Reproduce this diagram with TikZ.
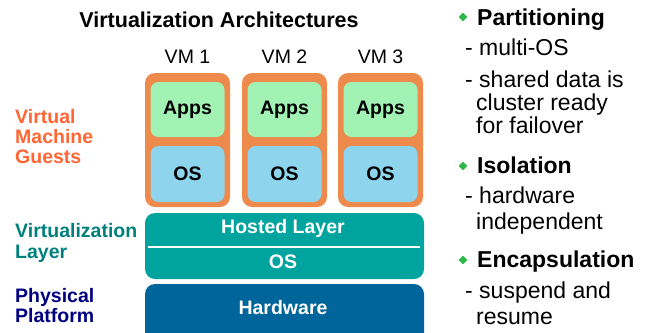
\documentclass[tikz,border=0pt]{standalone}
\usepackage{fontspec}
\setmainfont{Liberation Sans}
\usetikzlibrary{shapes.geometric}
\definecolor{vmorange}{HTML}{EE8A4C}
\definecolor{appsgreen}{HTML}{A2F2B4}
\definecolor{osblue}{HTML}{8DD4EC}
\definecolor{vteal}{HTML}{00A49E}
\definecolor{hwblue}{HTML}{00659A}
\definecolor{guestred}{HTML}{FF6633}
\definecolor{layerteal}{HTML}{00807C}
\definecolor{physnavy}{HTML}{000080}
\definecolor{bulletgreen}{HTML}{2EB84A}
\tikzset{
  vmbox/.style={rectangle, rounded corners=10pt, fill=vmorange, minimum width=85pt, minimum height=134pt, inner sep=0pt},
  appsbox/.style={rectangle, rounded corners=8pt, fill=appsgreen, minimum width=74pt, minimum height=55pt, inner sep=0pt, font=\fontsize{19.5}{22}\selectfont\bfseries},
  osbox/.style={rectangle, rounded corners=8pt, fill=osblue, minimum width=74pt, minimum height=56pt, inner sep=0pt, font=\fontsize{19.5}{22}\selectfont\bfseries},
  layerbox/.style={rectangle, rounded corners=10pt, minimum width=279pt, inner sep=0pt},
  whitetext/.style={text=white, inner sep=0pt, font=\fontsize{19.5}{22}\selectfont\bfseries},
  vmlabel/.style={inner sep=0pt, anchor=base, font=\fontsize{19.5}{22}\selectfont},
  sidelabel/.style={inner sep=0pt, anchor=base west, font=\fontsize{19.5}{22}\selectfont\bfseries},
  headtext/.style={inner sep=0pt, anchor=base west, font=\fontsize{23}{23}\selectfont\bfseries},
  bodytext/.style={inner sep=0pt, anchor=base west, font=\fontsize{23}{23}\selectfont},
  bulletmark/.style={star, star points=4, star point ratio=1.35, fill=bulletgreen, minimum size=8.5pt, inner sep=0pt, rounded corners=0.6pt},
}
\begin{document}
\begin{tikzpicture}[x=1pt,y=-1pt]
\useasboundingbox (0,0) rectangle (652,332);
\clip (0,0) rectangle (652,332);
% title
\node[inner sep=0pt, anchor=base, font=\fontsize{21.5}{24}\selectfont\bfseries] (title) at (219,27) {Virtualization Architectures};
% VM labels
\node[vmlabel] (vm1l) at (187.5,63) {VM 1};
\node[vmlabel] (vm2l) at (284.5,63) {VM 2};
\node[vmlabel] (vm3l) at (380.5,63) {VM 3};
% VM boxes
\node[vmbox] (vm1) at (187.5,140) {};
\node[vmbox] (vm2) at (284.5,140) {};
\node[vmbox] (vm3) at (380.5,140) {};
\node[appsbox] (apps1) at (187.5,109.5) {Apps};
\node[appsbox] (apps2) at (284.5,109.5) {Apps};
\node[appsbox] (apps3) at (380.5,109.5) {Apps};
\node[osbox] (os1) at (187.5,174) {OS};
\node[osbox] (os2) at (284.5,174) {OS};
\node[osbox] (os3) at (380.5,174) {OS};
% virtualization layer
\node[layerbox, fill=vteal, minimum height=66pt] (vlayer) at (284.5,246) {};
\coordinate (sepl) at (148,247);
\coordinate (sepr) at (420,247);
\draw[white, line width=2.5pt] (sepl) -- (sepr);
\node[whitetext] (hosted) at (283,228) {Hosted Layer};
\node[whitetext] (hostos) at (283,261.5) {OS};
% hardware
\node[layerbox, fill=hwblue, minimum height=62pt] (hw) at (284.5,315) {};
\node[whitetext] (hwt) at (283,307.5) {Hardware};
% left labels
\node[sidelabel, text=guestred] (g1) at (15,123) {Virtual};
\node[sidelabel, text=guestred] (g2) at (15,143) {Machine};
\node[sidelabel, text=guestred] (g3) at (15,163) {Guests};
\node[sidelabel, text=layerteal] (l1) at (15,237) {Virtualization};
\node[sidelabel, text=layerteal] (l2) at (15,258) {Layer};
\node[sidelabel, text=physnavy] (p1) at (15,302) {Physical};
\node[sidelabel, text=physnavy] (p2) at (15,322) {Platform};
% right list
\node[bulletmark] (b1) at (463,17) {};
\node[headtext] (h1) at (477,25) {Partitioning};
\node[bodytext] (t1) at (465,55) {- multi-OS};
\node[bodytext] (t2) at (465,87) {- shared data is};
\node[bodytext] (t3) at (476,110) {cluster ready};
\node[bodytext] (t4) at (476,133) {for failover};
\node[bulletmark] (b2) at (463,166) {};
\node[headtext] (h2) at (477,173) {Isolation};
\node[bodytext] (t5) at (465,203) {- hardware};
\node[bodytext] (t6) at (476,229) {independent};
\node[bulletmark] (b3) at (463,260) {};
\node[headtext] (h3) at (477,267) {Encapsulation};
\node[bodytext] (t7) at (465,298) {- suspend and};
\node[bodytext] (t8) at (476,324) {resume};
\end{tikzpicture}
\end{document}
